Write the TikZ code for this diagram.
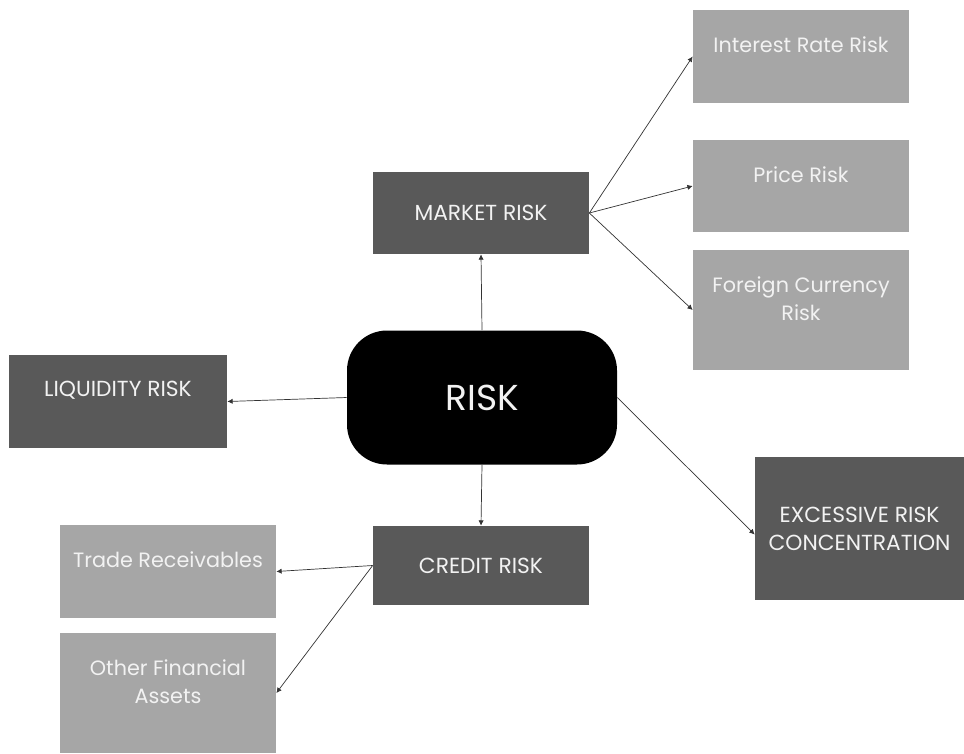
\documentclass[tikz,border=0pt]{standalone}
\usepackage{fontspec}
\setmainfont{Poppins}
\usepackage{tikz}
\usetikzlibrary{positioning,arrows.meta}
\definecolor{darkgrey}{HTML}{595959}
\definecolor{lightgrey}{HTML}{A6A6A6}
\definecolor{paletext}{HTML}{F2F2F2}

\begin{document}
\begin{tikzpicture}[
  darkbox/.style={fill=darkgrey, text=paletext, minimum width=4.32cm, align=center,
    font=\fontsize{12.4}{15.9}\selectfont},
  lightbox/.style={fill=lightgrey, minimum width=4.32cm},
  toplabel/.style={anchor=north, yshift=-0.41cm, text=paletext, align=center,
    font=\fontsize{11.8}{15.9}\selectfont},
  link/.style={draw=black!80, thin, -{Latex[length=3pt,width=3pt]}}
]
  \useasboundingbox (0,0) rectangle (19.28,-15.06);
  % centre
  \node[fill=black, text=paletext, rounded corners=0.8cm, minimum width=5.4cm,
    minimum height=2.68cm, font=\fontsize{20.5}{22}\selectfont] (risk) at (9.64,-7.95) {RISK};
  % main branches
  \node[darkbox, minimum height=1.64cm] (market) at (9.62,-4.26) {MARKET RISK};
  \node[darkbox, minimum height=1.58cm] (credit) at (9.62,-11.31) {CREDIT RISK};
  \node[darkbox, minimum width=4.36cm, minimum height=1.86cm,
    label={[toplabel, font=\fontsize{12.4}{15.9}\selectfont]north:LIQUIDITY RISK}] (liquidity) at (2.36,-8.03) {};
  \node[darkbox, minimum width=4.18cm, minimum height=2.86cm] (excessive) at (17.19,-10.57)
    {EXCESSIVE RISK\\CONCENTRATION};
  % market risk
  \node[lightbox, minimum height=1.86cm,
    label={[toplabel]north:Interest Rate Risk}] (interest) at (16.02,-1.13) {};
  \node[lightbox, minimum height=1.84cm,
    label={[toplabel]north:Price Risk}] (price) at (16.02,-3.72) {};
  \node[lightbox, minimum height=2.4cm,
    label={[toplabel]north:Foreign Currency\\Risk}] (foreign) at (16.02,-6.2) {};
  % credit risk
  \node[lightbox, minimum height=1.86cm,
    label={[toplabel]north:Trade Receivables}] (trade) at (3.36,-11.43) {};
  \node[lightbox, minimum height=2.4cm,
    label={[toplabel]north:Other Financial\\Assets}] (other) at (3.36,-13.86) {};

  \draw[link] (risk.north) -- (market.south);
  \draw[link] (risk.south) -- (credit.north);
  \draw[link] (risk.west) -- (liquidity.east);
  \draw[link] (risk.east) -- ([yshift=-0.12cm]excessive.west);
  \draw[link] (market.east) -- (interest.west);
  \draw[link] (market.east) -- (price.west);
  \draw[link] (market.east) -- (foreign.west);
  \draw[link] (credit.west) -- (trade.east);
  \draw[link] (credit.west) -- (other.east);
\end{tikzpicture}
\end{document}
